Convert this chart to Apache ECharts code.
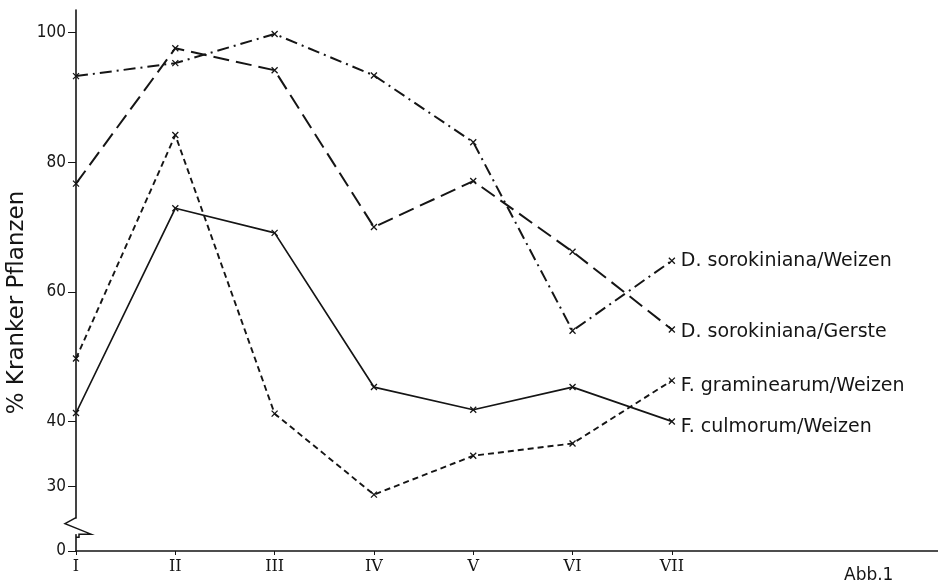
<!DOCTYPE html>
<html>
<head>
<meta charset="utf-8">
<script src="https://cdn.jsdelivr.net/npm/echarts@6/dist/echarts.min.js"></script>
<style>
  html, body { margin: 0; padding: 0; background: #ffffff; }
  #chart { width: 938px; height: 587px; }
</style>
</head>
<body>
<div id="chart"></div>
<script>
// ---- data ----
const categories = ['I', 'II', 'III', 'IV', 'V', 'VI', 'VII'];
const sorokinianaWeizen = [93.3, 95.3, 99.8, 93.4, 83.1, 54.0, 64.8];
const sorokinianaGerste = [76.7, 97.6, 94.2, 70.0, 77.1, 66.2, 54.2];
const graminearumWeizen = [49.7, 84.2, 41.2, 28.7, 34.7, 36.6, 46.3];
const culmorumWeizen    = [41.3, 72.9, 69.1, 45.3, 41.8, 45.3, 40.0];
const seriesNames = ['D. sorokiniana/Weizen', 'D. sorokiniana/Gerste', 'F. graminearum/Weizen', 'F. culmorum/Weizen'];
const yTickValues = [30, 40, 60, 80, 100];
const yBaseLabel = '0';
const yAxisTitle = '% Kranker Pflanzen';
const figureCaption = 'Abb.1';

// ---- chart ----
const INK = '#151515';
const AXIS_BASE = 20;          // value drawn at the axis origin (labelled "0", below the break)
const BREAK_HI = 25.0, BREAK_LO = 22.6;

const chart = echarts.init(document.getElementById('chart'), null, { renderer: 'canvas' });

function toPairs(arr) { return arr.map((v, i) => [i, v]); }
const xSymbol = 'path://M0 0L10 10M10 0L0 10';

function makeSeries(name, values, dash, width, labelDy) {
  return {
    name: name,
    type: 'line',
    data: toPairs(values),
    symbol: xSymbol,
    symbolSize: 6,
    showSymbol: true,
    itemStyle: { color: 'rgba(0,0,0,0)', borderColor: INK, borderWidth: 1.3 },
    lineStyle: { color: INK, width: width, type: dash },
    emphasis: { disabled: true },
    endLabel: {
      show: true,
      formatter: '{a}',
      distance: 9,
      offset: [0, labelDy],
      color: INK,
      fontFamily: 'DejaVu Sans',
      fontSize: 19
    },
    z: 3
  };
}

const tickIdx = categories.map((c, i) => i);
const yLabelValues = [AXIS_BASE].concat(yTickValues);

chart.setOption({
  animation: false,
  backgroundColor: '#ffffff',
  title: {
    text: figureCaption,
    left: 839,
    top: 562,
    textStyle: { fontFamily: 'DejaVu Sans', fontSize: 17, fontWeight: 'normal', color: INK }
  },
  grid: { left: 76, right: 0, top: 10, bottom: 36, outerBoundsMode: 'none' },
  xAxis: {
    type: 'value',
    min: 0,
    max: 8.68,
    splitLine: { show: false },
    axisLine: { show: true, onZero: false, lineStyle: { color: INK, width: 1.6 } },
    axisTick: { show: true, customValues: tickIdx, length: 4, lineStyle: { color: INK, width: 1 } },
    axisLabel: {
      customValues: tickIdx,
      formatter: v => categories[Math.round(v)] || '',
      margin: 8,
      color: INK,
      fontFamily: 'DejaVu Serif',
      fontSize: 16
    }
  },
  yAxis: {
    type: 'value',
    min: AXIS_BASE,
    max: 103.5,
    splitLine: { show: false },
    axisLine: { show: true, onZero: false, lineStyle: { color: INK, width: 1.6 } },
    axisTick: { show: true, customValues: yLabelValues, length: 8, lineStyle: { color: INK, width: 1 } },
    axisLabel: {
      customValues: yLabelValues,
      formatter: v => (v === AXIS_BASE ? yBaseLabel : String(v)),
      margin: 10,
      color: INK,
      fontFamily: "'Liberation Sans Narrow', 'DejaVu Sans Condensed', sans-serif",
      fontSize: 17
    }
  },
  series: [
    makeSeries(seriesNames[0], sorokinianaWeizen, [12, 5, 2, 5], 2, 0),
    makeSeries(seriesNames[1], sorokinianaGerste, [16, 7], 2, 3),
    makeSeries(seriesNames[2], graminearumWeizen, [6, 4], 1.9, 5),
    makeSeries(seriesNames[3], culmorumWeizen, 'solid', 1.7, 6)
  ]
});

// ---- axis break decoration + rotated axis title ----
const pHi = chart.convertToPixel({ gridIndex: 0 }, [0, BREAK_HI]);
const pLo = chart.convertToPixel({ gridIndex: 0 }, [0, BREAK_LO]);
const pTop = chart.convertToPixel({ gridIndex: 0 }, [0, 103.5]);
const pBase = chart.convertToPixel({ gridIndex: 0 }, [0, AXIS_BASE]);
const axX = pHi[0];
const yMid = (pTop[1] + pBase[1]) / 2;

chart.setOption({
  graphic: [
    {
      type: 'rect', z: 100,
      shape: { x: axX - 3, y: pHi[1], width: 6, height: pLo[1] - pHi[1] },
      style: { fill: '#ffffff' }
    },
    {
      type: 'polyline', z: 101,
      shape: {
        points: [
          [axX, pHi[1] - 1],
          [axX - 11, pHi[1] + 5],
          [axX + 15, pLo[1]],
          [axX + 3, pLo[1]],
          [axX + 3, pLo[1] + 3],
          [axX, pLo[1] + 3]
        ]
      },
      style: { stroke: INK, lineWidth: 1.5, fill: null }
    },
    {
      type: 'text', z: 101,
      x: 17, y: yMid + 22,
      rotation: Math.PI / 2,
      style: {
        text: yAxisTitle,
        fontFamily: 'DejaVu Sans',
        fontSize: 23,
        fill: INK,
        align: 'center',
        verticalAlign: 'middle'
      }
    }
  ]
});
</script>
</body>
</html>
